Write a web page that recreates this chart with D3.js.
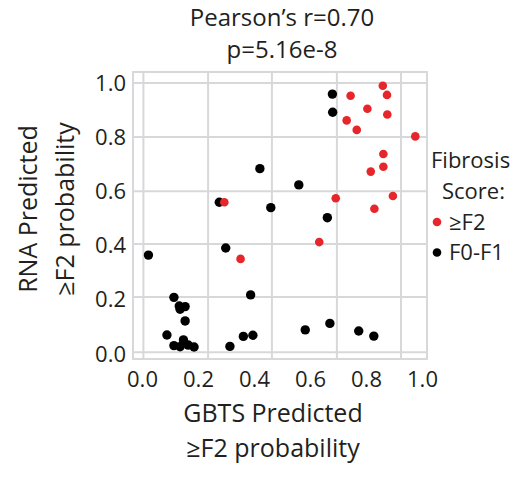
<!DOCTYPE html>
<html>
<head>
<meta charset="utf-8">
<script src="https://cdn.jsdelivr.net/npm/d3@7"></script>
<style>
  html, body { margin: 0; padding: 0; background: #fff; }
  svg { display: block; font-family: "Open Sans", "Noto Sans", sans-serif; }
</style>
</head>
<body>
<svg id="chart" width="528" height="487"></svg>
<script>
// ---- data ----
const f2GBTS = [0.860, 0.745, 0.875, 0.805, 0.876, 0.731, 0.767, 0.976, 0.862, 0.862, 0.817, 0.294, 0.692, 0.896, 0.830, 0.633, 0.352];
const f2RNA  = [0.990, 0.953, 0.956, 0.905, 0.884, 0.862, 0.827, 0.803, 0.738, 0.691, 0.673, 0.560, 0.575, 0.583, 0.536, 0.413, 0.351];

const f01GBTS = [0.680, 0.681, 0.421, 0.560, 0.276, 0.460, 0.662, 0.023, 0.299, 0.388, 0.114, 0.133, 0.154, 0.136, 0.154, 0.089, 0.148, 0.114, 0.136, 0.165, 0.186, 0.314, 0.362, 0.396, 0.583, 0.671, 0.774, 0.828];
const f01RNA  = [0.959, 0.892, 0.684, 0.624, 0.560, 0.540, 0.503, 0.365, 0.391, 0.218, 0.209, 0.177, 0.175, 0.165, 0.122, 0.070, 0.052, 0.031, 0.027, 0.033, 0.026, 0.028, 0.065, 0.069, 0.089, 0.113, 0.085, 0.066];

const tickValues = [0, 0.2, 0.4, 0.6, 0.8, 1.0];
const gridX = [0.005, 0.236, 0.464, 0.696, 0.925];
const gridY = [0.006, 0.210, 0.406, 0.601, 0.801, 1.0];

const titleLines = ["Pearson\u2019s r=0.70", "p=5.16e-8"];
const yTitleLines = ["RNA Predicted", "\u2265F2 probability"];
const xTitleLines = ["GBTS Predicted", "\u2265F2 probability"];
const legendTitle = ["Fibrosis", "Score:"];
const legendLabels = ["\u2265F2", "F0-F1"];
const colors = ["#e6262b", "#000000"];

// ---- layout ----
const svg = d3.select("#chart");
const frame = {left: 133, right: 427, top: 72, bottom: 359};
const x = d3.scaleLinear().domain([0, 1]).range([142, 422]);
const y = d3.scaleLinear().domain([0, 1]).range([354, 83]);
const gridColor = "#d7d8da";
const textColor = "#231f20";

// frame
svg.append("rect")
  .attr("x", frame.left).attr("y", frame.top)
  .attr("width", frame.right - frame.left).attr("height", frame.bottom - frame.top)
  .attr("fill", "none").attr("stroke", gridColor).attr("stroke-width", 2);

// grid
svg.append("g").selectAll("line").data(gridX).join("line")
  .attr("x1", d => x(d)).attr("x2", d => x(d))
  .attr("y1", frame.top).attr("y2", frame.bottom)
  .attr("stroke", gridColor).attr("stroke-width", 2);
svg.append("g").selectAll("line").data(gridY).join("line")
  .attr("y1", d => y(d)).attr("y2", d => y(d))
  .attr("x1", frame.left).attr("x2", frame.right)
  .attr("stroke", gridColor).attr("stroke-width", 2);

// axes (labels only)
const xAxis = d3.axisBottom(x).tickValues(tickValues).tickFormat(d3.format(".1f")).tickSize(0).tickPadding(0);
const gx = svg.append("g").attr("transform", "translate(0,371)").call(xAxis);
gx.select(".domain").remove();
gx.selectAll("text").attr("font-size", 22).attr("fill", textColor).attr("font-family", "Open Sans").attr("dy", "0.71em");

const yAxis = d3.axisLeft(y).tickValues(tickValues).tickFormat(d3.format(".1f")).tickSize(0).tickPadding(0);
const gy = svg.append("g").attr("transform", "translate(126,0)").call(yAxis);
gy.select(".domain").remove();
gy.selectAll("text").attr("font-size", 22).attr("fill", textColor).attr("font-family", "Open Sans");

// points
const f01 = f01GBTS.map((v, i) => ({gx: v, rna: f01RNA[i]}));
const f2 = f2GBTS.map((v, i) => ({gx: v, rna: f2RNA[i]}));
svg.append("g").selectAll("circle").data(f01).join("circle")
  .attr("cx", d => x(d.gx)).attr("cy", d => y(d.rna)).attr("r", 4.7).attr("fill", colors[1]);
svg.append("g").selectAll("circle").data(f2).join("circle")
  .attr("cx", d => x(d.gx)).attr("cy", d => y(d.rna)).attr("r", 4.3).attr("fill", colors[0]);

// title
svg.append("g").selectAll("text").data(titleLines).join("text")
  .attr("x", 282).attr("y", (d, i) => 26 + i * 32)
  .attr("text-anchor", "middle").attr("font-size", 24).attr("fill", textColor).text(d => d);

// y title
svg.append("g").selectAll("text").data(yTitleLines).join("text")
  .attr("transform", (d, i) => `translate(${37 + i * 37},209) rotate(-90)`)
  .attr("text-anchor", "middle").attr("font-size", 25).attr("fill", textColor).text(d => d);

// x title
svg.append("g").selectAll("text").data(xTitleLines).join("text")
  .attr("x", 273).attr("y", (d, i) => 422 + i * 35)
  .attr("text-anchor", "middle").attr("font-size", 25).attr("fill", textColor).text(d => d);

// legend
svg.append("g").selectAll("text").data(legendTitle).join("text")
  .attr("x", (d, i) => i === 0 ? 431 : 442).attr("y", (d, i) => 168 + i * 31)
  .attr("font-size", 22).attr("fill", textColor).text(d => d);
const lg = svg.append("g").selectAll("g").data(legendLabels).join("g")
  .attr("transform", (d, i) => `translate(437,${222 + i * 30.5})`);
lg.append("circle").attr("r", 4.3).attr("fill", (d, i) => colors[i]);
lg.append("text").attr("x", 12).attr("dy", "0.35em").attr("font-size", 22).attr("fill", textColor).text(d => d);
</script>
</body>
</html>
